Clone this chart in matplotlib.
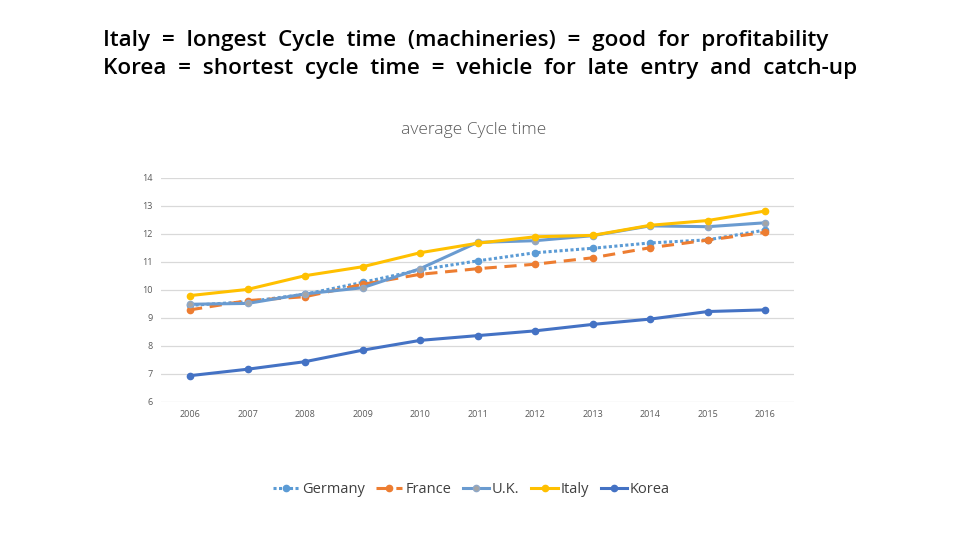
import matplotlib
matplotlib.use("Agg")
import matplotlib.pyplot as plt

plt.rcParams['font.family'] = ['Open Sans', 'DejaVu Sans']

years = ['2006', '2007', '2008', '2009', '2010', '2011', '2012', '2013', '2014', '2015', '2016']
germany = [9.45, 9.58, 9.85, 10.27, 10.72, 11.04, 11.33, 11.49, 11.68, 11.79, 12.14]
france = [9.29, 9.62, 9.76, 10.2, 10.56, 10.76, 10.92, 11.15, 11.51, 11.78, 12.06]
uk = [9.49, 9.52, 9.86, 10.08, 10.76, 11.7, 11.76, 11.94, 12.29, 12.26, 12.4]
italy = [9.8, 10.02, 10.51, 10.83, 11.33, 11.67, 11.9, 11.95, 12.31, 12.48, 12.82]
korea = [6.94, 7.17, 7.44, 7.85, 8.2, 8.37, 8.54, 8.77, 8.96, 9.23, 9.29]

fig = plt.figure(figsize=(9.6, 5.4), dpi=100)

# heading lines (wide word spacing like the slide)
fig.text(0.107, 0.925, 'Italy  =  longest  Cycle  time  (machineries)  =  good  for  profitability',
         fontsize=16.2, fontweight='semibold', ha='left', va='center', color='black')
fig.text(0.107, 0.873, 'Korea  =  shortest  cycle  time  =  vehicle  for  late  entry  and  catch-up',
         fontsize=16.2, fontweight='semibold', ha='left', va='center', color='black')

ax = fig.add_axes([0.168, 0.2556, 0.659, 0.4148])
x = list(range(len(years)))

ax.plot(x, germany, color='#5B9BD5', lw=2.2, ls=(0, (1, 0.8)), marker='o', ms=4.5, label='Germany')
ax.plot(x, france, color='#ED7D31', lw=2.2, ls=(0, (4, 2.5)), marker='o', ms=4.5, label='France')
ax.plot(x, uk, color='#6A9BD0', lw=2.2, marker='o', ms=4.5, mfc='#A5A5A5', mec='#8FA8C8', label='U.K.')
ax.plot(x, italy, color='#FFC000', lw=2.2, marker='o', ms=4.5, label='Italy')
ax.plot(x, korea, color='#4472C4', lw=2.2, marker='o', ms=4.5, label='Korea')

ax.set_xlim(-0.5, len(years) - 0.5)
ax.set_ylim(6, 14)
ax.set_yticks(range(6, 15))
ax.set_xticks(x)
ax.set_xticklabels(years)
ax.grid(axis='y', color='#D9D9D9', lw=0.9)
ax.set_axisbelow(True)
for s in ax.spines.values():
    s.set_visible(False)
ax.tick_params(length=0, labelsize=6.5, labelcolor='#595959', pad=6)

fig.text(0.493, 0.759, 'average Cycle time', fontsize=12.5, color='#595959',
         ha='center', va='center', fontweight='light')

ax.legend(loc='upper center', bbox_to_anchor=(0.49, -0.30), ncol=5, frameon=False,
          fontsize=10.5, labelcolor='#404040', handlelength=1.8, handletextpad=0.2, columnspacing=0.8)

fig.savefig('out.png', dpi=100, facecolor='white')
